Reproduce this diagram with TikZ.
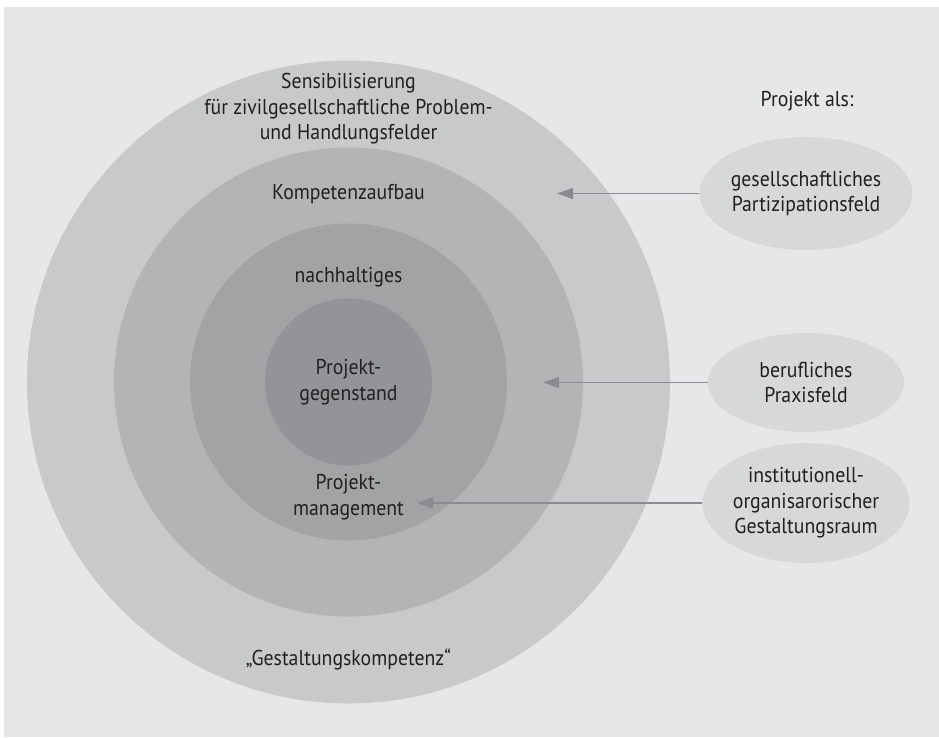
\documentclass[tikz,border=0pt]{standalone}
\usepackage{fontspec}
\setmainfont{PT Sans}[FakeStretch=0.92]
\usepackage{tikz}
\usetikzlibrary{arrows.meta,shapes.geometric,positioning}

\definecolor{paper}{HTML}{E6E7E9}
\definecolor{ringA}{HTML}{C8C9CB}
\definecolor{ringB}{HTML}{B3B4B6}
\definecolor{ringC}{HTML}{A2A3A5}
\definecolor{ringD}{HTML}{939497}
\definecolor{fieldgray}{HTML}{D7D8DA}
\definecolor{pointer}{HTML}{8A8B8E}
\definecolor{ink}{HTML}{231F20}

\begin{document}
\begin{tikzpicture}[x=1pt,y=-1pt,
	>={Triangle[length=16pt,width=11pt]},
	every node/.style={text=ink,font=\fontsize{21.5}{25.5}\selectfont,align=center},
	semithick]
	\tikzstyle{ring}=[circle,draw=none,inner sep=0pt]
	\tikzstyle{field}=[ellipse,draw=none,fill=fieldgray,inner sep=0pt,minimum width=196pt]
	\tikzstyle{pointer line}=[->,draw=pointer,line width=1.4pt]

	\useasboundingbox (0,0) rectangle (939,737);
	\fill[paper] (4,7) rectangle (939,737);

	% the four rings
	\node[ring,fill=ringA,minimum size=643pt] (outer) at (348.5,382) {};
	\node[ring,fill=ringB,minimum size=469pt] (comp)  at (348.5,382) {};
	\node[ring,fill=ringC,minimum size=317pt] (sust)  at (348.5,382) {};
	\node[ring,fill=ringD,minimum size=167pt] (core)  at (348.5,382) {Projekt-\\gegenstand};

	\node (sens)  at (348.5,109) {Sensibilisierung\\für zivilgesellschaftliche Problem-\\und Handlungsfelder};
	\node (kompa) at (348.5,194) {Kompetenzaufbau};
	\node (nach)  at (348.5,277) {nachhaltiges};
	\node (mgmt)  at (348.5,497) {Projekt-\\management};
	\node (gest)  at (348.5,659) {„Gestaltungskompetenz“};

	% project fields
	\node (als) at (807,101) {Projekt als:};
	\node[field,minimum height=113pt] (F1) at (806,193.5) {gesellschaftliches\\Partizipationsfeld};
	\node[field,minimum height=99pt]  (F2) at (806,382.5) {berufliches\\Praxisfeld};
	\node[field,minimum height=120pt] (F3) at (806,503)   {institutionell-\\organisarorischer\\Gestaltungsraum};

	\coordinate (t1) at (557,193.5);
	\coordinate (t2) at (543,382.5);
	\coordinate (t3) at (417,503);

	\draw[pointer line] (F1.west) -- (t1);
	\draw[pointer line] (F2.west) -- (t2);
	\draw[pointer line] (F3.west) -- (t3);
\end{tikzpicture}
\end{document}
